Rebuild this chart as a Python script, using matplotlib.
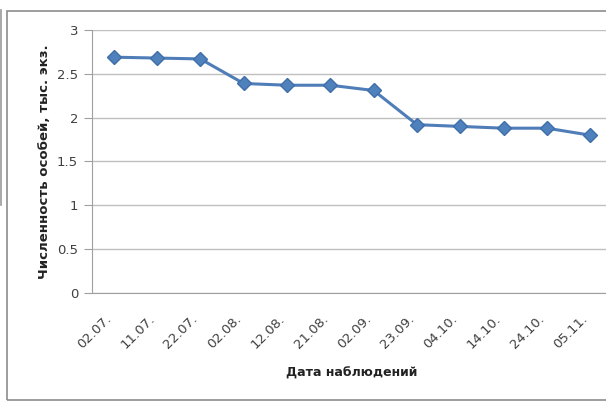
import matplotlib
matplotlib.use("Agg")
import matplotlib.pyplot as plt
import matplotlib.transforms as mtransforms
from matplotlib.lines import Line2D
from matplotlib.patches import Rectangle

dates = ["02.07.", "11.07.", "22.07.", "02.08.", "12.08.", "21.08.",
         "02.09.", "23.09.", "04.10.", "14.10.", "24.10.", "05.11."]
values = [2.69, 2.68, 2.67, 2.39, 2.37, 2.37, 2.31, 1.92, 1.90, 1.88, 1.88, 1.80]
yticks = [0, 0.5, 1, 1.5, 2, 2.5, 3]
ytick_labels = ["0", "0.5", "1", "1.5", "2", "2.5", "3"]

W, H = 606, 403
fig = plt.figure(figsize=(W / 100, H / 100), dpi=100)
fig.patch.set_facecolor("white")

# outer chart frame
fig.add_artist(Rectangle((7 / W, 1 - 400 / H), 620 / W, (400 - 11) / H,
                         transform=fig.transFigure, fill=False,
                         edgecolor="#8c8c8c", linewidth=1.2))
fig.add_artist(Line2D([1 / W, 1 / W], [1 - 10 / H, 1 - 205 / H],
                      transform=fig.transFigure, color="#9a9a9a", linewidth=1.2))

ax = fig.add_axes([92 / W, 1 - 293 / H, 520 / W, 263 / H])
x = list(range(len(dates)))
ax.plot(x, values, color="#4F7DB8", linewidth=2.2, marker="D", markersize=7,
        markerfacecolor="#4F81BD", markeredgecolor="#3F6EA8", zorder=3)

ax.set_xlim(-0.5, len(dates) - 0.5)
ax.set_ylim(0, 3)
ax.set_yticks(yticks)
ax.set_yticklabels(ytick_labels, fontsize=9.5, color="#404040")
ax.set_xticks(x)
ax.set_xticklabels(dates, rotation=45, ha="right", fontsize=9.5, color="#404040")
offset = mtransforms.ScaledTranslation(5 / 100, 0, fig.dpi_scale_trans)
for lbl in ax.get_xticklabels():
    lbl.set_transform(lbl.get_transform() + offset)
ax.tick_params(axis="y", length=6, color="#a0a0a0", pad=4)
ax.tick_params(axis="x", length=0, pad=14)
ax.grid(axis="y", color="#bfbfbf", linewidth=1.0)
ax.set_axisbelow(True)
for s in ["top", "right"]:
    ax.spines[s].set_visible(False)
ax.spines["left"].set_color("#a0a0a0")
ax.spines["bottom"].set_color("#a0a0a0")

ax.set_xlabel("Дата наблюдений", fontsize=9, fontweight="bold", color="#222222",
              labelpad=11)
ax.set_ylabel("Численность особей, тыс. экз.", fontsize=9.5, fontweight="bold",
              color="#222222", labelpad=4)

fig.savefig("out.png", dpi=100)
